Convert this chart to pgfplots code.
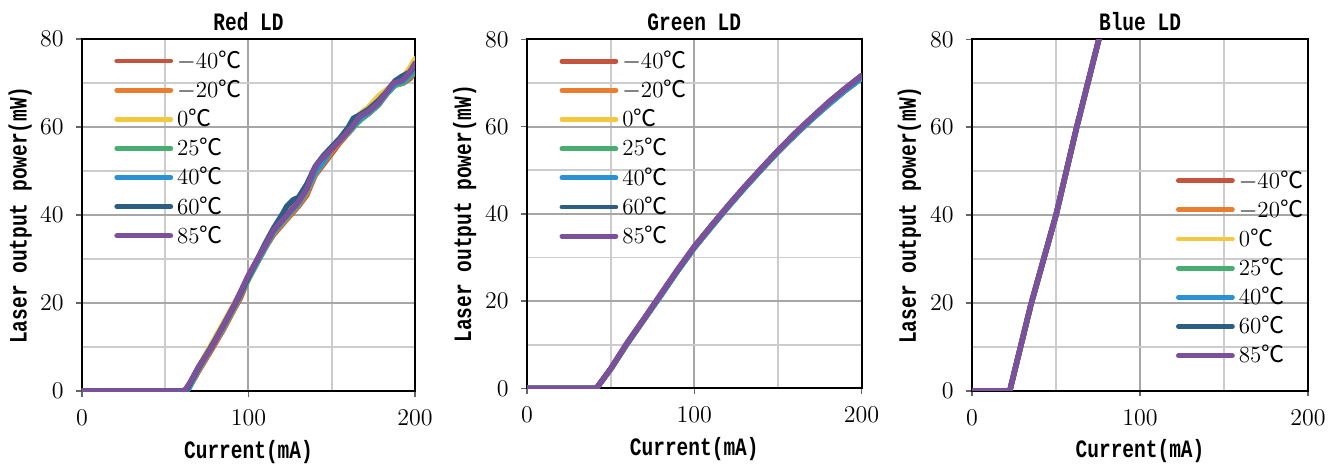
\documentclass[border=0pt]{standalone}
\usepackage{fontspec}
\usepackage{pgfplots}
\pgfplotsset{compat=1.18}
\newfontfamily\cjk{Noto Sans CJK SC}
\newfontfamily\labfont[FakeStretch=0.78]{Liberation Mono}
\newcommand{\dC}{{\cjk ℃}}
\definecolor{c1}{RGB}{197,84,62}
\definecolor{c2}{RGB}{233,125,48}
\definecolor{c3}{RGB}{244,200,61}
\definecolor{c4}{RGB}{72,173,112}
\definecolor{c5}{RGB}{42,146,211}
\definecolor{c6}{RGB}{44,93,130}
\definecolor{c7}{RGB}{124,80,155}

% ---------- Red LD data ----------
\pgfplotstableread{
x y
0 0
61 0
64 0.5
70 4.5
78 9.5
85 14
92 19
95 21
100 25.5
110 32.5
115 35.5
123 39
130 42
135 44.5
140 49
145 51.5
150 54
155 56.5
162 59.5
167 62
172 63
178 65
183 67.5
188 69.5
193 70
197 71
200 72.5
}\redA
\pgfplotstableread{
x y
0 0
61 0
64 0.6
70 4.8
78 9.8
85 14.3
92 19.2
100 25.7
110 32.5
115 35.8
123 39.2
130 42.3
135 45
140 49.3
145 52
150 54.5
155 56.8
162 59.8
167 62
172 63.5
178 65.5
183 68
188 69.8
193 70.5
197 71.5
200 73
}\redB
\pgfplotstableread{
x y
0 0
61 0
63 0.5
70 5.5
78 10.8
85 15.5
92 20.3
100 25.3
110 32.8
115 36.2
123 40
130 43.5
135 46
140 50
145 53
150 55.5
155 57.5
162 60.5
167 63
172 64.5
178 67
183 68.5
188 70
193 71.5
197 73.5
200 75.5
}\redC
\pgfplotstableread{
x y
0 0
61 0
64 0.5
70 5
78 10
85 14.5
92 19.5
100 25.5
110 32.5
115 36
123 39.5
130 42.5
135 45.5
140 49.5
145 52
150 55
155 57
162 59.5
167 61.5
172 63
178 65
183 67.5
188 69.5
193 70
197 71.5
200 72.5
}\redD
\pgfplotstableread{
x y
0 0
61 0
64 0.6
70 5.2
78 10.2
85 14.8
92 19.7
100 25.8
110 32.8
115 36.3
123 39.8
130 42.8
135 45.8
140 49.8
145 52.3
150 55.2
155 57.3
162 59.8
167 62
172 63.3
178 65.3
183 67.8
188 69.8
193 70.5
197 72
200 73.5
}\redE
\pgfplotstableread{
x y
0 0
61 0
63 0.5
70 5.3
78 10.3
85 15
92 19.8
100 26
110 33.5
115 37
120 40
123 42
127 43.5
130 44
135 47
140 51
145 53.5
150 55.5
155 57.5
160 60
163 62
167 62.8
172 64
178 66
183 68
188 70.5
192 71.5
197 72.5
200 74
}\redF
\pgfplotstableread{
x y
0 0
60 0
62 0.3
65 2
70 5.5
78 10
85 15
92 20
100 26.4
110 33
115 36.5
123 40
130 43
135 46
139 50
142 52
150 55
155 57
162 60
167 62.5
172 63.5
178 65.5
183 68
187 70
192 70.5
196 72
200 74.5
}\redG

% ---------- Green LD data ----------
\pgfplotstableread{
x y
0 0
41.5 0
50 4.4
60 10.3
70 15.8
80 21.3
90 26.9
100 32.2
110 36.9
120 41.5
130 45.9
140 50.1
150 54.2
160 58
170 61.6
180 65
190 68.2
200 71.1
}\grnA
\pgfplotstableread{
x y
0 0
41.5 0
50 4.5
60 10.5
70 16
80 21.6
90 27.2
100 32.5
110 37.2
120 41.8
130 46.2
140 50.4
150 54.5
160 58.4
170 62
180 65.5
190 68.7
200 71.7
}\grnG

% ---------- Blue LD data ----------
\pgfplotstableread{
x y
0 0
22.5 0
35 19.5
50 40
62 59.5
75.5 80
78 84
}\bluA

\pgfplotsset{
  every axis title/.style={at={(axis description cs:0.5,1.05)}, anchor=center,
      font=\labfont\bfseries\fontsize{12.5}{13}\selectfont},
  every axis/.append style={
    scale only axis,
    anchor=south west,
    xmin=0, xmax=200, ymin=0, ymax=80,
    xtick={0,100,200}, ytick={0,20,40,60,80},
    minor x tick num=1, minor y tick num=1,
    grid=both,
    major grid style={draw=black!35, line width=1pt},
    minor grid style={draw=black!20, line width=0.9pt},
    axis line style={black, line width=1.1pt},
    tick align=outside, tickpos=left,
    major tick length=2.8pt, minor tick length=0pt,
    major tick style={black!60, line width=0.8pt},
    ticklabel style={font=\fontsize{11.5}{13}\selectfont},
    xticklabel style={yshift=-3.2pt},
    yticklabel style={xshift=-2.8pt},
    xlabel style={at={(axis description cs:0.5,-0.173)}, anchor=center,
      font=\labfont\bfseries\fontsize{12.5}{13}\selectfont},
    ylabel style={at={(axis description cs:-0.186,0.5)}, anchor=center,
      font=\labfont\bfseries\fontsize{12.5}{13}\selectfont},
    xlabel={Current(mA)},
    ylabel={Laser output power(mW)},
    clip=true,
    legend cell align=left,
    legend image code/.code={\draw[#1, line width=2.4pt, line cap=round] (0pt,0pt) -- (27pt,0pt);},
    legend style={draw=none, fill=none, font=\fontsize{11.5}{12}\selectfont,
      row sep=0.3pt, inner sep=1pt,
      /tikz/every even column/.append style={column sep=0pt}},
  },
  every axis plot/.append style={line width=2.7pt, line join=round, line cap=round, no markers},
}

\begin{document}
\begin{tikzpicture}
\useasboundingbox (-41pt,-41pt) rectangle (630.5pt,195.5pt);

% Red LD
\begin{axis}[at={(0pt,0pt)}, width=166.5pt, height=176pt, title={Red LD},
  legend style={at={(0.09,0.985)}, anchor=north west}]
\addplot[c1] table {\redA};
\addplot[c2] table {\redB};
\addplot[c3] table {\redC};
\addplot[c4] table {\redD};
\addplot[c5] table {\redE};
\addplot[c6] table {\redF};
\addplot[c7] table {\redG};
\legend{{$-$40\dC},{$-$20\dC},{0\dC},{25\dC},{40\dC},{60\dC},{85\dC}}
\end{axis}

% Green LD
\begin{axis}[at={(222.5pt,1.35pt)}, width=167.3pt, height=174.5pt, title={Green LD},
  legend style={at={(0.09,0.985)}, anchor=north west}]
\addplot[c1] table {\grnA};
\addplot[c2] table {\grnA};
\addplot[c3] table {\grnA};
\addplot[c4] table {\grnA};
\addplot[c5] table {\grnA};
\addplot[c6] table {\grnG};
\addplot[c7] table {\grnG};
\legend{{$-$40\dC},{$-$20\dC},{0\dC},{25\dC},{40\dC},{60\dC},{85\dC}}
\end{axis}

% Blue LD
\begin{axis}[at={(445pt,0.15pt)}, width=168pt, height=175.7pt, title={Blue LD},
  legend style={at={(0.6,0.645)}, anchor=north west}]
\addplot[c1] table {\bluA};
\addplot[c2] table {\bluA};
\addplot[c3] table {\bluA};
\addplot[c4] table {\bluA};
\addplot[c5] table {\bluA};
\addplot[c6] table {\bluA};
\addplot[c7] table {\bluA};
\legend{{$-$40\dC},{$-$20\dC},{0\dC},{25\dC},{40\dC},{60\dC},{85\dC}}
\end{axis}
\end{tikzpicture}
\end{document}
